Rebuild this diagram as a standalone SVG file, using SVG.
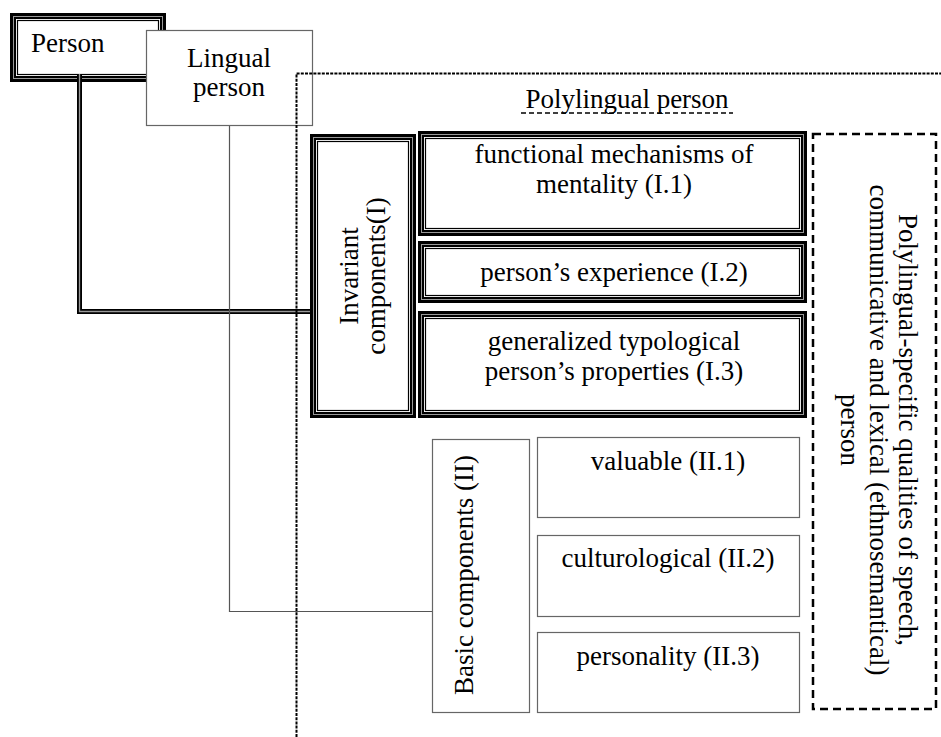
<svg xmlns="http://www.w3.org/2000/svg" width="941" height="737" viewBox="0 0 941 737">
<style>
text{font-family:"Liberation Serif","Times New Roman",serif;font-size:27px;fill:#000}
.m{text-anchor:middle}
.tb1{fill:#fff;stroke:#000;stroke-width:6}
.tb2{fill:none;stroke:#999;stroke-width:1}
.tb3{fill:none;stroke:#000;stroke-width:1.2}
.thin{fill:#fff;stroke:#666;stroke-width:1.2}
.conn-d1{fill:none;stroke:#000;stroke-width:5}
.conn-d2{fill:none;stroke:#999;stroke-width:1.3}
.conn-s{fill:none;stroke:#555;stroke-width:1.2}
.fine{fill:none;stroke:#000;stroke-width:2;stroke-dasharray:3 1.2}
.big{fill:none;stroke:#000;stroke-width:2.5;stroke-dasharray:8 5}
</style>
<rect width="941" height="737" fill="#fff"/>

<g id="person">
<rect class="tb1" x="13" y="16" width="150" height="63"/>
<rect class="tb2" x="13.5" y="16.5" width="149" height="62"/>
<rect class="tb3" x="17.5" y="20.5" width="141" height="54"/>
<text x="31" y="52">Person</text>
</g>

<g id="connectors">
<path class="conn-d1" d="M79.5 74 V311.5 H312"/>
<path class="conn-d2" d="M79.5 74 V311.5 H312"/>
</g>

<g id="lingual-person">
<rect class="thin" x="146.5" y="30.5" width="166" height="95"/>
<text class="m" x="229" y="67">Lingual</text>
<text class="m" x="229" y="96">person</text>
</g>

<g id="connectors-2">
<path class="conn-s" d="M229.5 126 V611.5 H432"/>
</g>

<g id="polylingual-person">
<path class="fine" d="M296.5 737 V73.5 H941"/>
<text class="m" x="627" y="108">Polylingual person</text>
<line x1="521" y1="113" x2="733" y2="113" stroke="#000" stroke-width="1.5" stroke-dasharray="5 3"/>
</g>

<g id="invariant">
<rect class="tb1" x="313" y="137" width="100" height="278"/>
<rect class="tb2" x="313.5" y="137.5" width="99" height="277"/>
<rect class="tb3" x="317.5" y="141.5" width="91" height="269"/>
<text class="m" transform="translate(358,276) rotate(-90)">Invariant</text>
<text class="m" transform="translate(385,276) rotate(-90)">components(I)</text>
</g>

<g id="i1">
<rect class="tb1" x="421" y="134" width="383" height="99"/>
<rect class="tb2" x="421.5" y="134.5" width="382" height="98"/>
<rect class="tb3" x="425.5" y="138.5" width="374" height="90"/>
<text class="m" x="614" y="163">functional mechanisms of</text>
<text class="m" x="614" y="193">mentality (I.1)</text>
</g>

<g id="i2">
<rect class="tb1" x="421" y="244" width="383" height="56"/>
<rect class="tb2" x="421.5" y="244.5" width="382" height="55"/>
<rect class="tb3" x="425.5" y="248.5" width="374" height="47"/>
<text class="m" x="614" y="281">person’s experience (I.2)</text>
</g>

<g id="i3">
<rect class="tb1" x="421" y="314" width="383" height="101"/>
<rect class="tb2" x="421.5" y="314.5" width="382" height="100"/>
<rect class="tb3" x="425.5" y="318.5" width="374" height="92"/>
<text class="m" x="614" y="350">generalized typological</text>
<text class="m" x="614" y="380">person’s properties (I.3)</text>
</g>

<g id="basic">
<rect class="thin" x="432.5" y="439.5" width="97" height="273"/>
<text class="m" transform="translate(473,575) rotate(-90)">Basic components (II)</text>
</g>

<g id="ii1">
<rect class="thin" x="537.5" y="437.5" width="262" height="80"/>
<text class="m" x="668" y="470">valuable (II.1)</text>
</g>

<g id="ii2">
<rect class="thin" x="537.5" y="535.5" width="262" height="81"/>
<text class="m" x="668" y="567">culturological (II.2)</text>
</g>

<g id="ii3">
<rect class="thin" x="537.5" y="632.5" width="262" height="80"/>
<text class="m" x="668" y="665">personality (II.3)</text>
</g>

<g id="polylingual-specific">
<rect class="big" x="813" y="134" width="123" height="575"/>
<text class="m" transform="translate(899,430) rotate(90)">Polylingual-specific qualities of speech,</text>
<text class="m" transform="translate(870,430) rotate(90)">communicative and lexical (ethnosemantical)</text>
<text class="m" transform="translate(841,430) rotate(90)">person</text>
</g>
</svg>
